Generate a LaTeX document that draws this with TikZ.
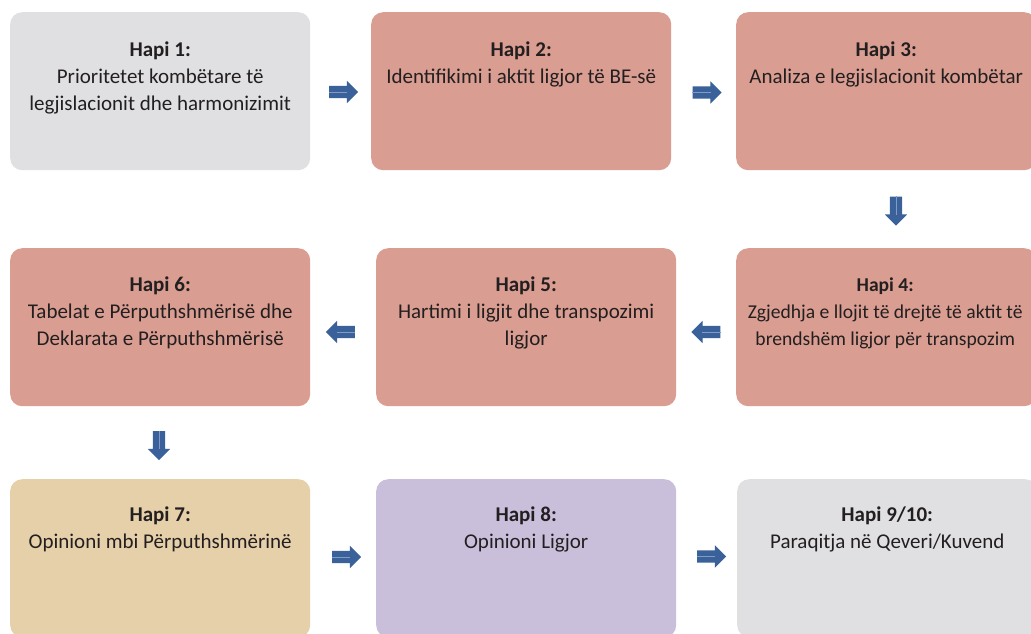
\documentclass[tikz,border=0pt]{standalone}
\usepackage{fontspec}
\setmainfont{Carlito}
\usetikzlibrary{shapes.arrows,calc}
\definecolor{cgray}{HTML}{E0E0E2}
\definecolor{csalmon}{HTML}{DA9D91}
\definecolor{ctan}{HTML}{E6D0AA}
\definecolor{clav}{HTML}{C9BFDB}
\definecolor{carrow}{HTML}{3A6199}
\definecolor{chl}{HTML}{7F9CC4}
\definecolor{ctext}{HTML}{231F20}
\tikzset{
  stepbox/.style={rectangle, rounded corners=12pt, minimum width=300pt, minimum height=158pt, inner sep=0pt, anchor=north west},
  txt/.style={anchor=north, align=center, inner sep=0pt, text=ctext, font=\fontsize{21}{27}\selectfont},
  blockarrow/.style={single arrow, fill=carrow, draw=none, inner sep=6pt, minimum width=0pt, minimum height=29pt, single arrow head extend=5pt},
  hl/.style={draw=chl, line width=0.6pt}
}
\newcommand{\hd}[1]{\strut\textbf{#1}}
\begin{document}
\begin{tikzpicture}[x=1pt,y=-1pt]
\useasboundingbox (0,0) rectangle (1031,633);
\clip (0,0) rectangle (1031,633);
\fill[white] (0,0) rectangle (1031,633);
% row 1
\node[stepbox, fill=cgray] (b1) at (10,12) {};
\node[stepbox, fill=csalmon] (b2) at (371,12) {};
\node[stepbox, fill=csalmon] (b3) at (736,12) {};
% row 2
\node[stepbox, fill=csalmon] (b6) at (10,248) {};
\node[stepbox, fill=csalmon] (b5) at (376,248) {};
\node[stepbox, fill=csalmon] (b4) at (736,248) {};
% row 3
\node[stepbox, fill=ctan] (b7) at (10,479) {};
\node[stepbox, fill=clav] (b8) at (376,479) {};
\node[stepbox, fill=cgray] (b9) at (737,479) {};
% texts
\node[txt] (t1) at ($(b1.north)+(0,25)$) {\hd{Hapi 1:}\\Prioritetet kombëtare të\\legjislacionit dhe harmonizimit};
\node[txt] (t2) at ($(b2.north)+(0,25)$) {\hd{Hapi 2:}\\Identifikimi i aktit ligjor të BE-së};
\node[txt] (t3) at ($(b3.north)+(0,25)$) {\hd{Hapi 3:}\\Analiza e legjislacionit kombëtar};
\node[txt, font=\fontsize{19.6}{27}\selectfont] (t4) at ($(b4.north)+(-1,24)$) {\hd{Hapi 4:}\\Zgjedhja e llojit të drejtë të aktit të\\brendshëm ligjor për transpozim};
\node[txt] (t5) at ($(b5.north)+(0,24)$) {\hd{Hapi 5:}\\Hartimi i ligjit dhe transpozimi\\ligjor};
\node[txt] (t6) at ($(b6.north)+(0,24)$) {\hd{Hapi 6:}\\Tabelat e Përputhshmërisë dhe\\Deklarata e Përputhshmërisë};
\node[txt] (t7) at ($(b7.north)+(0,23)$) {\hd{Hapi 7:}\\Opinioni mbi Përputhshmërinë};
\node[txt] (t8) at ($(b8.north)+(0,23)$) {\hd{Hapi 8:}\\Opinioni Ligjor};
\node[txt] (t9) at ($(b9.north)+(0,23)$) {\hd{Hapi 9/10:}\\Paraqitja në Qeveri/Kuvend};
% arrows
\node[blockarrow] (a12) at (340.5,92) {};
\node[blockarrow] (a23) at (704,92.5) {};
\node[blockarrow, shape border rotate=270] (a34) at (896,208) {};
\node[blockarrow, shape border rotate=180] (a45) at (709,332) {};
\node[blockarrow, shape border rotate=180] (a56) at (343.5,332) {};
\node[blockarrow, shape border rotate=270] (a67) at (159,442.5) {};
\node[blockarrow] (a78) at (343.5,557) {};
\node[blockarrow] (a89) at (708.5,556.5) {};
\foreach \a in {a12,a23,a34,a45,a56,a67,a78,a89}{
  \draw[hl] (\a.tail) -- ($(\a.tail)!0.62!(\a.tip)$);
}
\end{tikzpicture}
\end{document}
